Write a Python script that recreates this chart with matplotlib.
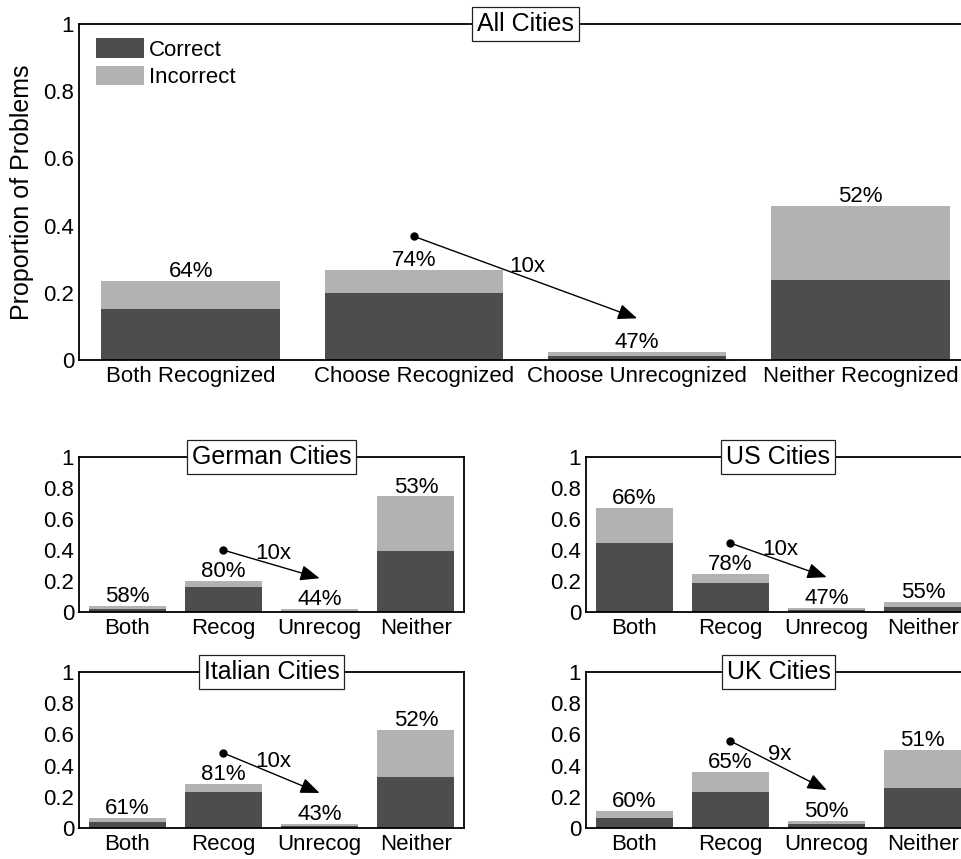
import numpy as np
import matplotlib
matplotlib.use("Agg")
import matplotlib.pyplot as plt

plt.rcParams['font.family'] = ['Liberation Sans', 'DejaVu Sans']

# ---- data -------------------------------------------------------------
long_labels = ["Both Recognized", "Choose Recognized",
               "Choose Unrecognized", "Neither Recognized"]
short_labels = ["Both", "Recog", "Unrecog", "Neither"]

# total proportion of problems in each category
all_total = [0.236, 0.268, 0.024, 0.458]
german_total = [0.037, 0.198, 0.017, 0.743]
us_total = [0.669, 0.243, 0.024, 0.063]
italian_total = [0.062, 0.281, 0.024, 0.627]
uk_total = [0.107, 0.358, 0.043, 0.499]

# percent answered correctly in each category
all_pct = [64, 74, 47, 52]
german_pct = [58, 80, 44, 53]
us_pct = [66, 78, 47, 55]
italian_pct = [61, 81, 43, 52]
uk_pct = [60, 65, 50, 51]

ratio_labels = ["10x", "10x", "10x", "10x", "9x"]
titles = ["All Cities", "German Cities", "US Cities", "Italian Cities", "UK Cities"]

yticks = [0, 0.2, 0.4, 0.6, 0.8, 1]
ytick_labels = ["0", "0.2", "0.4", "0.6", "0.8", "1"]

# ---- style ------------------------------------------------------------
DARK = "#4d4d4d"
LIGHT = "#b2b2b2"
FS = 16
TITLE_FS = 18

W, H = 962, 859
fig = plt.figure(figsize=(W / 100, H / 100), dpi=100)


def px_axes(left, top, right, bottom):
    return fig.add_axes([left / W, 1 - bottom / H, (right - left) / W, (bottom - top) / H])


def draw_panel(ax, totals, pct, ratio, title, xlabels, arrow_off):
    totals = np.asarray(totals, dtype=float)
    pct = np.asarray(pct, dtype=float)
    x = np.arange(1, len(totals) + 1)
    correct = totals * pct / 100.0
    incorrect = totals - correct
    bc = ax.bar(x, correct, 0.8, color=DARK, linewidth=0, label="Correct")
    bi = ax.bar(x, incorrect, 0.8, bottom=correct, color=LIGHT, linewidth=0,
                label="Incorrect")

    for xi, t, p in zip(x, totals, pct):
        ax.annotate(f"{p:.0f}%", (xi, t), xytext=(0, 2.8), textcoords="offset points",
                    ha="center", va="baseline", fontsize=FS)

    # arrow from the "choose recognized" bar to the "choose unrecognized" bar
    y1 = totals[1] + arrow_off
    y2 = totals[2] + arrow_off
    ax.annotate("", xy=(x[2], y2), xytext=(x[1], y1),
                arrowprops=dict(arrowstyle="-|>,head_length=0.42,head_width=0.17",
                                mutation_scale=28, lw=1.0, color="black",
                                shrinkA=0, shrinkB=0))
    ax.plot([x[1]], [y1], "o", color="black", ms=5, zorder=5)
    ax.annotate(ratio, ((x[1] + x[2]) / 2, (y1 + y2) / 2), xytext=(1, 8),
                textcoords="offset points", ha="center", va="center", fontsize=FS)

    ax.set_xlim(0.5, 4.5)
    ax.set_ylim(0, 1)
    ax.set_yticks(yticks)
    ax.set_yticklabels(ytick_labels, fontsize=FS)
    ax.set_xticks(x)
    ax.set_xticklabels(xlabels, fontsize=FS)
    ax.tick_params(axis="both", length=0)
    ax.tick_params(axis="x", pad=4.5)
    ax.tick_params(axis="y", pad=3.5)
    for s in ax.spines.values():
        s.set_linewidth(1.3)
        s.set_color("black")

    ax.text(0.5, 1.0, title, transform=ax.transAxes, ha="center", va="center",
            fontsize=TITLE_FS, zorder=10, clip_on=False,
            bbox=dict(boxstyle="square,pad=0.2", fc="white", ec="#222222", lw=0.9))
    return bc, bi


# top panel
ax_all = px_axes(79, 24, 972, 360)
bc, bi = draw_panel(ax_all, all_total, all_pct, ratio_labels[0], titles[0],
                    long_labels, 0.1)
ax_all.set_ylabel("Proportion of Problems", fontsize=TITLE_FS, labelpad=7)
ax_all.legend(handles=[bc, bi], labels=["Correct", "Incorrect"], loc="upper left",
              bbox_to_anchor=(0.019, 0.957), frameon=False, fontsize=FS,
              borderpad=0, borderaxespad=0, handlelength=2.15, handleheight=0.95,
              handletextpad=0.22, labelspacing=0.25)

# country panels
ax_de = px_axes(79, 456.5, 464, 612)
draw_panel(ax_de, german_total, german_pct, ratio_labels[1], titles[1], short_labels, 0.2)

ax_us = px_axes(586, 456.5, 971, 612)
draw_panel(ax_us, us_total, us_pct, ratio_labels[2], titles[2], short_labels, 0.2)

ax_it = px_axes(79, 672.3, 464, 827.8)
draw_panel(ax_it, italian_total, italian_pct, ratio_labels[3], titles[3], short_labels, 0.2)

ax_uk = px_axes(586, 672.3, 971, 827.8)
draw_panel(ax_uk, uk_total, uk_pct, ratio_labels[4], titles[4], short_labels, 0.2)

fig.savefig("out.png", dpi=100)
